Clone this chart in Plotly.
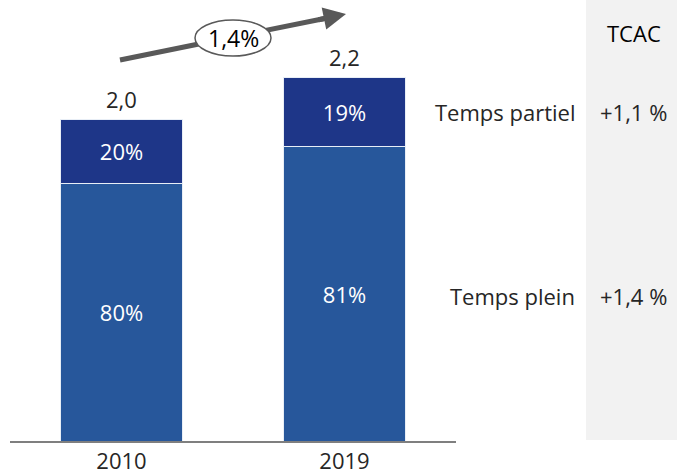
import plotly.graph_objects as go

years = ["2010", "2019"]
totals = [2.0, 2.26]
total_labels = ["2,0", "2,2"]
share_full = [0.80, 0.81]
share_part = [0.20, 0.19]
full_labels = ["80%", "81%"]
part_labels = ["20%", "19%"]
series_names = ["Temps plein", "Temps partiel"]
tcac_labels = ["+1,4 %", "+1,1 %"]
cagr_label = "1,4%"

full_vals = [t * s for t, s in zip(totals, share_full)]
part_vals = [t * s for t, s in zip(totals, share_part)]

FONT = "Open Sans"
TXT = "#262626"
FS = 22
W, H = 677, 475
L, R, B, T = 10, 221, 34, 0
pw, ph = W - L - R, H - B - T

def px(x):
    return (x - L) / pw

def py(y):
    return (H - B - y) / ph

fig = go.Figure()
fig.add_trace(go.Bar(x=years, y=full_vals, name=series_names[0],
                     marker=dict(color="#27579B", line=dict(color="#E8EEF6", width=1)),
                     text=full_labels, textposition="inside", insidetextanchor="middle",
                     textfont=dict(color="white", size=FS, family=FONT)))
fig.add_trace(go.Bar(x=years, y=part_vals, name=series_names[1],
                     marker=dict(color="#1E3688", line=dict(color="#E8EEF6", width=1)),
                     text=part_labels, textposition="inside", insidetextanchor="middle",
                     textfont=dict(color="white", size=FS, family=FONT)))

ann = []
for i, (t, lab) in enumerate(zip(totals, total_labels)):
    ann.append(dict(x=i, y=t, xref="x", yref="y", text=lab, showarrow=False,
                    xanchor="center", yanchor="bottom", yshift=3,
                    font=dict(size=FS, color=TXT, family=FONT)))

# arrow head (the shaft is a shape below the ellipse)
ann.append(dict(x=px(346), y=py(14), xref="paper", yref="paper", ax=-29, ay=6,
                showarrow=True, arrowhead=2, arrowsize=0.9, arrowwidth=5, arrowcolor="#595959", text=""))

def txt(x, y, s, color=TXT, xa="center", size=FS):
    ann.append(dict(x=px(x), y=py(y), xref="paper", yref="paper", text=s, showarrow=False,
                    xanchor=xa, yanchor="middle", font=dict(size=size, color=color, family=FONT)))

txt(233, 38, cagr_label, color="black", size=23)
txt(634, 33, "TCAC", color="black")
txt(577, 112, series_names[1], xa="right")
txt(577, 296, series_names[0], xa="right")
txt(633, 112, tcac_labels[1])
txt(633, 296, tcac_labels[0])

shapes = [
    dict(type="rect", xref="paper", yref="paper", x0=px(586), x1=px(677), y0=py(440), y1=py(0),
         fillcolor="#F2F2F2", line=dict(width=0), layer="below"),
    dict(type="line", xref="paper", yref="paper", x0=px(120), y0=py(60), x1=px(332), y1=py(17),
         line=dict(color="#595959", width=5), layer="above"),
    dict(type="circle", xref="paper", yref="paper", x0=px(195), x1=px(271), y0=py(56), y1=py(20),
         fillcolor="white", line=dict(color="#595959", width=1.5), layer="above"),
]

fig.update_layout(
    width=W, height=H, barmode="stack", bargap=0.45, showlegend=False,
    margin=dict(l=L, r=R, t=T, b=B, autoexpand=False),
    plot_bgcolor="white", paper_bgcolor="white",
    xaxis=dict(type="category", range=[-0.5, 1.5], showline=True, linecolor="#7F7F7F", linewidth=2,
               ticks="", automargin=False,
               tickfont=dict(size=FS, color=TXT, family=FONT), showgrid=False),
    yaxis=dict(range=[0, ph / 161.0], visible=False, showgrid=False),
    annotations=ann, shapes=shapes,
)
fig.write_html("out.html", config={"displayModeBar": False},
               post_script="document.body.style.margin='0';document.body.style.overflow='hidden';")
